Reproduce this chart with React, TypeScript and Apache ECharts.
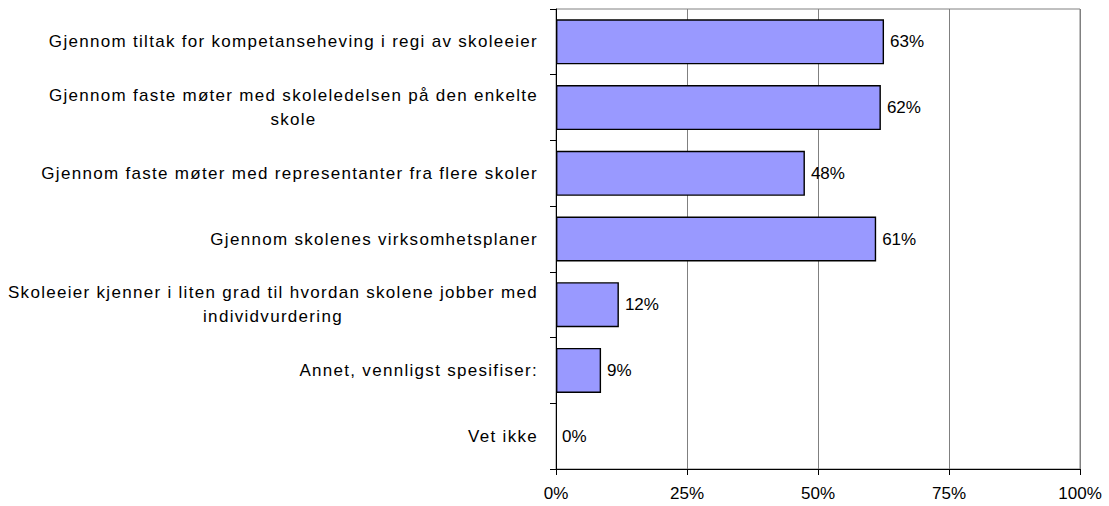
import React, { useEffect, useRef } from "react";
import * as echarts from "echarts";

const categories: string[] = [
  "Gjennom tiltak for kompetanseheving i regi av skoleeier",
  "Gjennom faste møter med skoleledelsen på den enkelte skole",
  "Gjennom faste møter med representanter fra flere skoler",
  "Gjennom skolenes virksomhetsplaner",
  "Skoleeier kjenner i liten grad til hvordan skolene jobber med individvurdering",
  "Annet, vennligst spesifiser:",
  "Vet ikke",
];

// line breaks as in the reference
const labelLines: string[][] = [
  ["Gjennom tiltak for kompetanseheving i regi av skoleeier"],
  ["Gjennom faste møter med skoleledelsen på den enkelte", "skole"],
  ["Gjennom faste møter med representanter fra flere skoler"],
  ["Gjennom skolenes virksomhetsplaner"],
  ["Skoleeier kjenner i liten grad til hvordan skolene jobber med", "individvurdering"],
  ["Annet, vennligst spesifiser:"],
  ["Vet ikke"],
];

const values: number[] = [62.6, 62.0, 47.5, 61.1, 12.0, 8.6, 0];

const xTicks: number[] = [0, 25, 50, 75, 100];

const FONT = "'Liberation Sans', sans-serif";
const CAT_FONT = "Arial"; // same face, used to apply letter spacing to category labels
const SPACING = 1.3;

const css = `
svg text[style*="Arial"], svg tspan[style*="Arial"],
svg text[font-family*="Arial"], svg tspan[font-family*="Arial"] { letter-spacing: ${SPACING}px; }
`;

let platformSet = false;
function setupMeasure() {
  if (platformSet) return;
  platformSet = true;
  const anyE = echarts as any;
  if (typeof anyE.setPlatformAPI !== "function") return;
  const canvas = document.createElement("canvas");
  const ctx = canvas.getContext("2d");
  if (!ctx) return;
  anyE.setPlatformAPI({
    measureText: (text: string, font?: string) => {
      ctx.font = font || "12px sans-serif";
      const w = ctx.measureText(text).width;
      const extra = font && font.indexOf("Arial") >= 0 ? SPACING * text.length : 0;
      return { width: w + extra };
    },
  });
}

export default function App() {
  const ref = useRef<HTMLDivElement>(null);

  useEffect(() => {
    if (!ref.current) return;
    setupMeasure();
    const chart = echarts.init(ref.current, undefined, { renderer: "svg" });
    chart.setOption({
      animation: false,
      backgroundColor: "#ffffff",
      textStyle: { fontFamily: FONT },
      grid: {
        left: 556,
        right: 29,
        top: 9,
        bottom: 37,
        show: true,
        borderColor: "#808080",
        borderWidth: 1,
        backgroundColor: "transparent",
      },
      xAxis: {
        type: "value",
        min: xTicks[0],
        max: xTicks[xTicks.length - 1],
        interval: 25,
        axisLine: { show: true, lineStyle: { color: "#000000", width: 1 } },
        axisTick: { show: true, length: 6, lineStyle: { color: "#000000" } },
        splitLine: { show: true, lineStyle: { color: "#808080", width: 1 } },
        axisLabel: {
          formatter: (v: number) => `${v}%`,
          color: "#000000",
          fontSize: 17,
          fontFamily: FONT,
          margin: 16,
        },
      },
      yAxis: {
        type: "category",
        inverse: true,
        data: categories,
        axisLine: { show: true, lineStyle: { color: "#000000", width: 1 } },
        axisTick: { show: true, length: 6, lineStyle: { color: "#000000" } },
        splitLine: { show: false },
        axisLabel: {
          color: "#000000",
          fontSize: 17,
          fontFamily: CAT_FONT,
          margin: 18,
          lineHeight: 24,
          formatter: (v: string) => {
            const i = categories.indexOf(v);
            const lines = i >= 0 ? labelLines[i] : [v];
            return lines.map((l) => `{c|${l}}`).join("\n");
          },
          rich: {
            c: {
              align: "center",
              fontSize: 17,
              fontFamily: CAT_FONT,
              color: "#000000",
              lineHeight: 24,
            },
          },
        },
      },
      series: [
        {
          type: "bar",
          data: values.map((v) =>
            v === 0 ? { value: v, itemStyle: { borderWidth: 0 } } : v
          ),
          barWidth: 45,
          itemStyle: {
            color: "#9999ff",
            borderColor: "#000000",
            borderWidth: 1.4,
          },
          label: {
            show: true,
            position: "right",
            distance: 6,
            formatter: (p: any) => `${Math.round(p.value)}%`,
            color: "#000000",
            fontSize: 17,
            fontFamily: FONT,
          },
        },
      ],
    });
    return () => chart.dispose();
  }, []);

  return (
    <>
      <style>{css}</style>
      <div
        ref={ref}
        style={{ position: "absolute", left: 0, top: 0, width: 1109, height: 506 }}
      />
    </>
  );
}
